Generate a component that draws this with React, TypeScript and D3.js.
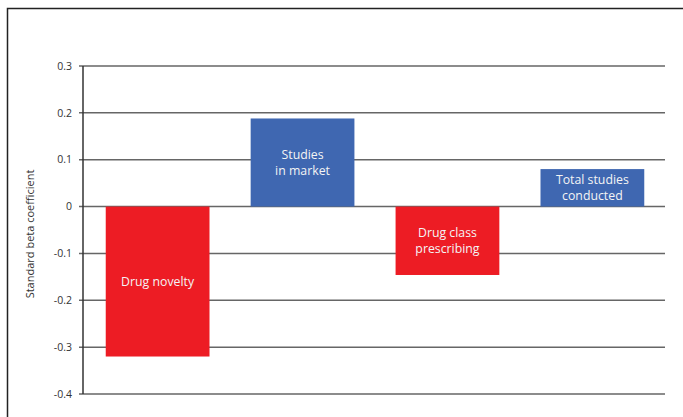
import React from "react";
import * as d3 from "d3";

const categories = ["Drug novelty", "Studies in market", "Drug class prescribing", "Total studies conducted"];
const values = [-0.32, 0.188, -0.146, 0.08];
const barLabels = [["Drug novelty"], ["Studies", "in market"], ["Drug class", "prescribing"], ["Total studies", "conducted"]];
const colors = ["#ED1C24", "#3F67B1", "#ED1C24", "#3F67B1"];
const ticks = [0.3, 0.2, 0.1, 0, -0.1, -0.2, -0.3, -0.4];
const yTitle = "Standard beta coefficient";

export default function App() {
  const W = 683, H = 417;
  const left = 83, right = 665, top = 66, bottom = 394;
  const y = d3.scaleLinear().domain([-0.4, 0.3]).range([bottom, top]);
  const x = d3.scaleBand().domain(categories).range([left + 1, right + 1]).paddingInner(0.284).paddingOuter(0.15);
  const font = "'Open Sans', 'Noto Sans', sans-serif";
  const fmt = (t: number) => (t === 0 ? "0" : d3.format(".1f")(t).replace("\u2212", "-"));
  return (
    <svg width={W} height={H} style={{ position: "absolute", left: 0, top: 0 }}>
      <rect x={0} y={0} width={W} height={H} fill="#fff" />
      <rect x={7.5} y={8.5} width={W} height={H} fill="none" stroke="#222" strokeWidth={1.5} />
      {ticks.map((t) => (
        <g key={t}>
          <line x1={left - 4} x2={right} y1={y(t)} y2={y(t)} stroke="#666" strokeWidth={1.5} />
          <text x={72} y={y(t)} dy="0.35em" textAnchor="end" fontFamily={font} fontSize={10.5} fill="#333">
            {fmt(t)}
          </text>
        </g>
      ))}
      {categories.map((c, i) => {
        const v = values[i];
        const y0 = y(Math.max(0, v));
        const y1 = y(Math.min(0, v));
        const bx = x(c)!;
        const cx = bx + x.bandwidth() / 2;
        const cy = (y0 + y1) / 2;
        const lines = barLabels[i];
        return (
          <g key={c}>
            <rect x={bx} y={y0} width={x.bandwidth()} height={y1 - y0} fill={colors[i]} />
            {lines.map((l, j) => (
              <text key={j} x={cx} y={cy + (j - (lines.length - 1) / 2) * 15.5} dy="0.35em" textAnchor="middle"
                fontFamily={font} fontSize={12.3} fill="#f4f4f4">{l}</text>
            ))}
          </g>
        );
      })}
      <line x1={left} x2={left} y1={top} y2={bottom} stroke="#333" strokeWidth={1.5} />
      <text transform={`translate(30,234) rotate(-90)`} textAnchor="middle" dy="0.35em"
        fontFamily={font} fontSize={11} fill="#333">{yTitle}</text>
    </svg>
  );
}
